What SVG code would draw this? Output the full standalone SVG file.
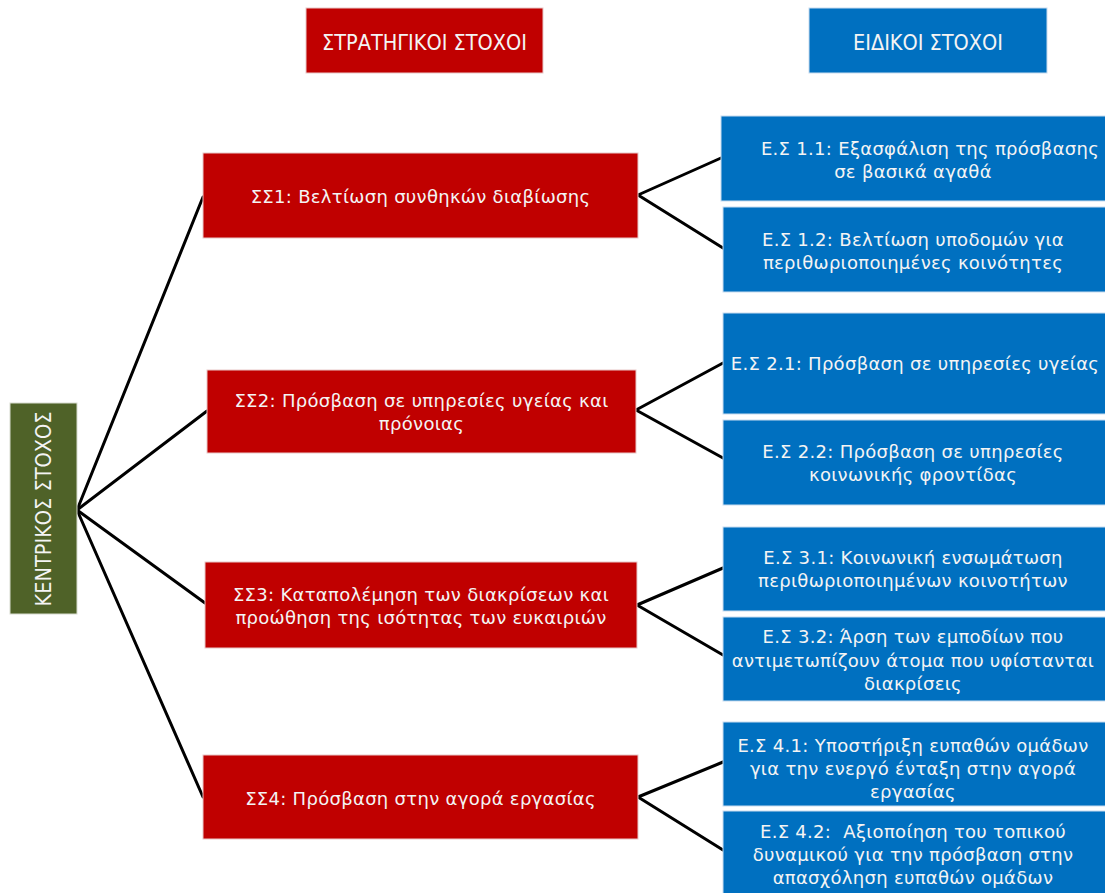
<svg xmlns="http://www.w3.org/2000/svg" width="1105" height="893" viewBox="0 0 1105 893">
<style>
.red{fill:#C00000;stroke:#e8c8c8;stroke-width:1}
.blue{fill:#0070C0;stroke:#c8dcef;stroke-width:1}
.green{fill:#4F6228;stroke:#d8dccf;stroke-width:1}
.t{font-family:"DejaVu Sans",Verdana,sans-serif;font-size:18px;letter-spacing:0.3px;fill:#f4f4f4;text-anchor:middle}
.h{font-family:"DejaVu Sans Condensed","Liberation Sans Narrow",sans-serif;font-size:21.5px;fill:#f4f4f4;text-anchor:middle}
.c line{stroke:#000;stroke-width:3;stroke-linecap:round}
</style>
<rect width="1105" height="893" fill="#fff"/>
<g class="c" id="connectors">
<line x1="77" y1="510" x2="203" y2="197"/>
<line x1="77" y1="510" x2="207" y2="411"/>
<line x1="77" y1="510" x2="205" y2="603"/>
<line x1="77" y1="510" x2="203" y2="797"/>
<line x1="638" y1="195" x2="721" y2="158"/>
<line x1="638" y1="195" x2="723" y2="248"/>
<line x1="636" y1="410" x2="723" y2="363"/>
<line x1="636" y1="410" x2="723" y2="458"/>
<line x1="637" y1="605" x2="723" y2="568"/>
<line x1="637" y1="605" x2="723" y2="655"/>
<line x1="638" y1="797" x2="723" y2="762"/>
<line x1="638" y1="797" x2="723" y2="850"/>
</g>
<g id="hdr-ss"><rect class="red" x="306" y="8" width="237" height="65"/><text class="h" x="424.5" y="50">ΣΤΡΑΤΗΓΙΚΟΙ ΣΤΟΧΟΙ</text></g>
<g id="hdr-es"><rect class="blue" x="809" y="8" width="238" height="65"/><text class="h" x="928" y="50">ΕΙΔΙΚΟΙ ΣΤΟΧΟΙ</text></g>
<g id="central"><rect class="green" x="10" y="403" width="67" height="211"/><text class="h" transform="translate(51 509) rotate(-90)">ΚΕΝΤΡΙΚΟΣ ΣΤΟΧΟΣ</text></g>
<g id="ss1"><rect class="red" x="203" y="153" width="435" height="85"/><text class="t" x="420.5" y="203">ΣΣ1: Βελτίωση συνθηκών διαβίωσης</text></g>
<g id="ss2"><rect class="red" x="207" y="370" width="429" height="83"/><text class="t" x="421.5" y="407">ΣΣ2: Πρόσβαση σε υπηρεσίες υγείας και</text><text class="t" x="421.5" y="430">πρόνοιας</text></g>
<g id="ss3"><rect class="red" x="205" y="562" width="432" height="86"/><text class="t" x="421" y="601">ΣΣ3: Καταπολέμηση των διακρίσεων και</text><text class="t" x="421" y="624">προώθηση της ισότητας των ευκαιριών</text></g>
<g id="ss4"><rect class="red" x="203" y="755" width="435" height="84"/><text class="t" x="420.5" y="805">ΣΣ4: Πρόσβαση στην αγορά εργασίας</text></g>
<g id="es11"><rect class="blue" x="721" y="116" width="390" height="85"/><text class="t" x="930" y="155">Ε.Σ 1.1: Εξασφάλιση της πρόσβασης</text><text class="t" x="913" y="178">σε βασικά αγαθά</text></g>
<g id="es12"><rect class="blue" x="723" y="207" width="390" height="85"/><text class="t" x="913" y="246">Ε.Σ 1.2: Βελτίωση υποδομών για</text><text class="t" x="913" y="269">περιθωριοποιημένες κοινότητες</text></g>
<g id="es21"><rect class="blue" x="723" y="313" width="390" height="101"/><text class="t" x="915" y="370">Ε.Σ 2.1: Πρόσβαση σε υπηρεσίες υγείας</text></g>
<g id="es22"><rect class="blue" x="723" y="420" width="390" height="85"/><text class="t" x="913" y="458">Ε.Σ 2.2: Πρόσβαση σε υπηρεσίες</text><text class="t" x="913" y="481">κοινωνικής φροντίδας</text></g>
<g id="es31"><rect class="blue" x="723" y="527" width="390" height="84"/><text class="t" x="913" y="564">Ε.Σ 3.1: Κοινωνική ενσωμάτωση</text><text class="t" x="913" y="587">περιθωριοποιημένων κοινοτήτων</text></g>
<g id="es32"><rect class="blue" x="723" y="617" width="390" height="84"/><text class="t" x="913" y="643">Ε.Σ 3.2: Άρση των εμποδίων που</text><text class="t" x="913" y="667">αντιμετωπίζουν άτομα που υφίστανται</text><text class="t" x="913" y="690">διακρίσεις</text></g>
<g id="es41"><rect class="blue" x="723" y="722" width="390" height="84"/><text class="t" x="913" y="752">Ε.Σ 4.1: Υποστήριξη ευπαθών ομάδων</text><text class="t" x="913" y="775">για την ενεργό ένταξη στην αγορά</text><text class="t" x="913" y="798">εργασίας</text></g>
<g id="es42"><rect class="blue" x="723" y="811" width="390" height="90"/><text class="t" x="913" y="838" xml:space="preserve">Ε.Σ 4.2:  Αξιοποίηση του τοπικού</text><text class="t" x="913" y="861">δυναμικού για την πρόσβαση στην</text><text class="t" x="913" y="884">απασχόληση ευπαθών ομάδων</text></g>
</svg>
